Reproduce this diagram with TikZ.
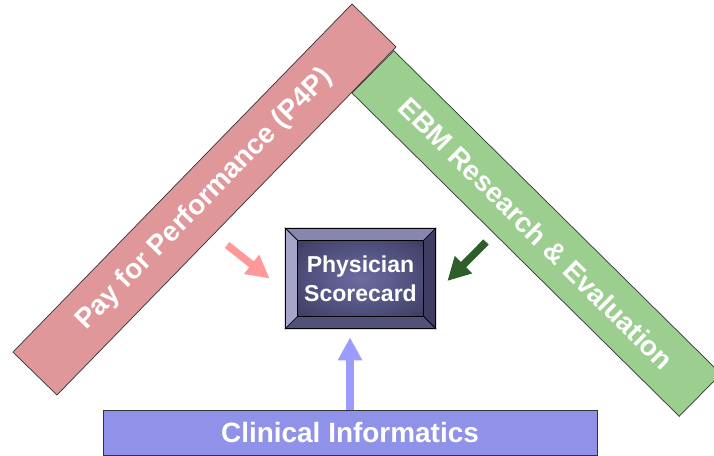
\documentclass[tikz,border=0pt]{standalone}
\usepackage{fontspec}
\setmainfont{Liberation Sans}
\usetikzlibrary{arrows.meta,backgrounds,calc}
\definecolor{p4pred}{HTML}{E0979A}
\definecolor{ebmgreen}{HTML}{9BCE8F}
\definecolor{infoblue}{HTML}{8F92E8}
\definecolor{p4parrow}{HTML}{FF9999}
\definecolor{ebmarrow}{HTML}{2E5E2A}
\definecolor{infoarrow}{HTML}{9C9CFF}
\definecolor{bevtop}{HTML}{8886AE}
\definecolor{bevleft}{HTML}{A5A5C8}
\definecolor{bevright}{HTML}{3F3E62}
\definecolor{bevbottom}{HTML}{53517C}
\definecolor{cardmid}{HTML}{6C6CA4}
\definecolor{carddark}{HTML}{3A3A5E}
\pgfdeclareradialshading{cardglow}{\pgfpoint{0bp}{0bp}}{%
  color(0bp)=(cardmid); color(38bp)=(carddark); color(50bp)=(carddark)}
\begin{document}
\begin{tikzpicture}[
  bar/.style={draw=black!80,text=white,inner sep=0,
    font=\bfseries\fontsize{15.9}{19}\selectfont},
  card/.style={draw=black,text=white,align=center,
    font=\bfseries\fontsize{13.1}{16.5}\selectfont,
    minimum width=3cm,minimum height=2cm},
  push/.style={line width=.15cm,-{Triangle[width=.46cm,length=.46cm]}}]
  \useasboundingbox (0,0) rectangle (14.28,9.12);
  \clip (0,0) rectangle (14.28,9.12);
  % the three pillars
  \node[bar,fill=ebmgreen,minimum width=9.2cm,minimum height=1.19cm,rotate=-44.65]
    (ebm) at (10.73,4.45) {EBM Research \& Evaluation};
  \node[bar,fill=p4pred,minimum width=9.72cm,minimum height=1.23cm,rotate=45.75]
    (p4p) at (4.09,5.13) {Pay for Performance (P4P)};
  \node[bar,fill=infoblue,minimum width=9.88cm,minimum height=.9cm]
    (info) at (7,.47) {Clinical Informatics};
  \node[card] (card) at (7.21,3.55) {Physician\\Scorecard};
  % bevelled frame
  \begin{scope}[on background layer]
    \coordinate (nw) at ($(card.north west)+(.25,-.25)$);
    \coordinate (ne) at ($(card.north east)+(-.25,-.25)$);
    \coordinate (se) at ($(card.south east)+(-.25,.25)$);
    \coordinate (sw) at ($(card.south west)+(.25,.25)$);
    \filldraw[fill=bevtop] (card.north west)--(card.north east)--(ne)--(nw)--cycle;
    \filldraw[fill=bevleft] (card.north west)--(nw)--(sw)--(card.south west)--cycle;
    \filldraw[fill=bevright] (card.north east)--(ne)--(se)--(card.south east)--cycle;
    \filldraw[fill=bevbottom] (card.south west)--(sw)--(se)--(card.south east)--cycle;
    \shade[shading=cardglow] (nw) rectangle (se);
    \draw (nw) rectangle (se);
  \end{scope}
  \coordinate (p4ptail) at (4.54,4.22);
  \coordinate (ebmtail) at (9.72,4.28);
  \draw[push,p4parrow] (p4ptail)--([xshift=-.31cm]card.west);
  \draw[push,ebmarrow] (ebmtail)--([xshift=.23cm,yshift=-.05cm]card.east);
  \draw[push,infoarrow] (info.north)--($(info.north |- card.south)+(0,-.17)$);
\end{tikzpicture}
\end{document}
